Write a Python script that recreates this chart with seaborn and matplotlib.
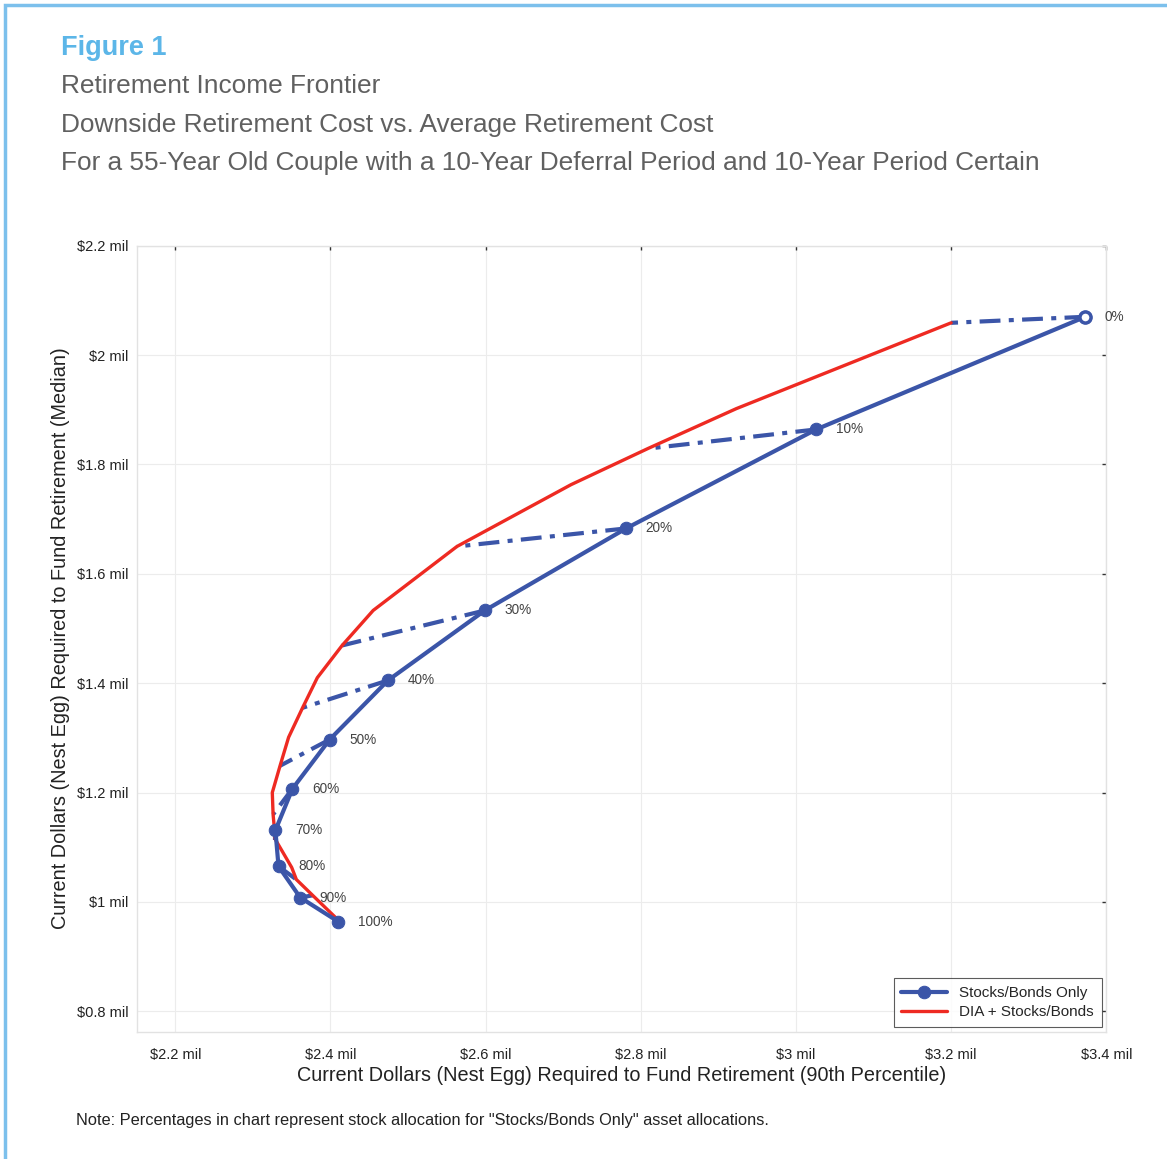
import matplotlib.pyplot as plt
import seaborn as sns
import pandas as pd
from matplotlib.patches import Rectangle

# stock allocation of the "Stocks/Bonds Only" portfolios
alloc = ['0%', '10%', '20%', '30%', '40%', '50%', '60%', '70%', '80%', '90%', '100%']
sb_x = [3.373, 3.026, 2.781, 2.599, 2.474, 2.399, 2.351, 2.329, 2.333, 2.361, 2.410]
sb_y = [2.070, 1.864, 1.683, 1.533, 1.405, 1.297, 1.207, 1.131, 1.065, 1.008, 0.964]

# DIA + Stocks/Bonds frontier
dia_x = [3.200, 2.923, 2.809, 2.710, 2.563, 2.455, 2.415, 2.383, 2.364, 2.346, 2.335,
         2.325, 2.326, 2.329, 2.350, 2.356, 2.377, 2.412]
dia_y = [2.059, 1.902, 1.829, 1.763, 1.650, 1.533, 1.469, 1.410, 1.355, 1.301, 1.249,
         1.200, 1.160, 1.114, 1.063, 1.041, 1.012, 0.964]

# which frontier point each allocation moves to (dash-dot link)
link_idx = [0, 2, 4, 6, 8, 10, 12, 13, 15, 16]

x_ticks = [2.2, 2.4, 2.6, 2.8, 3.0, 3.2, 3.4]
x_tick_labels = ['$2.2 mil', '$2.4 mil', '$2.6 mil', '$2.8 mil', '$3 mil', '$3.2 mil', '$3.4 mil']
y_ticks = [0.8, 1.0, 1.2, 1.4, 1.6, 1.8, 2.0, 2.2]
y_tick_labels = ['$0.8 mil', '$1 mil', '$1.2 mil', '$1.4 mil', '$1.6 mil', '$1.8 mil', '$2 mil', '$2.2 mil']

BLUE = '#3b55a8'
RED = '#ee2a22'

sns.set_theme(style='whitegrid')
plt.rcParams['font.family'] = ['Liberation Sans', 'DejaVu Sans']

fig = plt.figure(figsize=(11.67, 11.59), dpi=100)
ax = fig.add_axes([0.117, 0.110, 0.831, 0.678])

sb = pd.DataFrame({'x': sb_x, 'y': sb_y, 'alloc': alloc})
dia = pd.DataFrame({'x': dia_x, 'y': dia_y})

# dash-dot links between allocations and the frontier
for i, j in enumerate(link_idx):
    ax.plot([sb_x[i], dia_x[j]], [sb_y[i], dia_y[j]], color=BLUE, lw=3.0,
            linestyle=(0, (5, 2, 1.2, 2)), zorder=2, solid_capstyle='butt')

sns.lineplot(data=dia, x='x', y='y', sort=False, color=RED, lw=2.4, ax=ax,
             zorder=3, label='DIA + Stocks/Bonds')
sns.lineplot(data=sb, x='x', y='y', sort=False, color=BLUE, lw=3.0, ax=ax,
             zorder=4, marker='o', markersize=9, markeredgecolor=BLUE,
             label='Stocks/Bonds Only')
# 0% marker is drawn open
ax.plot(sb_x[0], sb_y[0], 'o', ms=8, mfc='white', mec=BLUE, mew=2.5, zorder=5)

for xv, yv, lab in zip(sb_x, sb_y, alloc):
    ax.annotate(lab, (xv, yv), xytext=(14, 0), textcoords='offset points',
                fontsize=9.8, color='#444444', va='center', ha='left')

ax.set_xlim(2.15, 3.4)
ax.set_ylim(0.763, 2.2)
ax.set_xticks(x_ticks)
ax.set_xticklabels(x_tick_labels)
ax.set_yticks(y_ticks)
ax.set_yticklabels(y_tick_labels)
ax.tick_params(axis='both', labelsize=10.5, labelcolor='#222222', direction='in',
               length=3, width=1, color='#333333', top=True, right=True, pad=6)
ax.tick_params(axis='x', pad=12)
ax.grid(True, color='#ececec', lw=0.8)
ax.set_facecolor('white')
for s in ax.spines.values():
    s.set_color('#e2e2e2')
    s.set_linewidth(1.0)

ax.set_xlabel('Current Dollars (Nest Egg) Required to Fund Retirement (90th Percentile)',
              fontsize=14.3, color='#222222', labelpad=3)
ax.set_ylabel('Current Dollars (Nest Egg) Required to Fund Retirement (Median)',
              fontsize=14.3, color='#222222', labelpad=5)

handles, labels = ax.get_legend_handles_labels()
leg = ax.legend(handles[::-1], labels[::-1], loc='lower right', fontsize=11,
                frameon=True, fancybox=False, borderaxespad=0.3, handlelength=3,
                borderpad=0.5, labelspacing=0.35)
leg.get_frame().set_edgecolor('#333333')
leg.get_frame().set_linewidth(0.8)

fig.text(0.052, 0.959, 'Figure 1', fontsize=19.5, fontweight='bold', color='#5cb6e8',
         va='center')
subs = ['Retirement Income Frontier',
        'Downside Retirement Cost vs. Average Retirement Cost',
        'For a 55-Year Old Couple with a 10-Year Deferral Period and 10-Year Period Certain']
for k, t in enumerate(subs):
    fig.text(0.052, 0.926 - k * 0.0335, t, fontsize=18.9, color='#606060', va='center')

fig.text(0.065, 0.033, 'Note: Percentages in chart represent stock allocation for '
         '"Stocks/Bonds Only" asset allocations.', fontsize=11.8, color='#222222',
         va='center')

# light blue frame on the left and top
fig.patches.append(Rectangle((0.004, -0.01), 1.2, 1.006, transform=fig.transFigure,
                             fill=False, edgecolor='#7cc0ec', lw=2.5))

fig.savefig('out.png', dpi=100, facecolor='white')
